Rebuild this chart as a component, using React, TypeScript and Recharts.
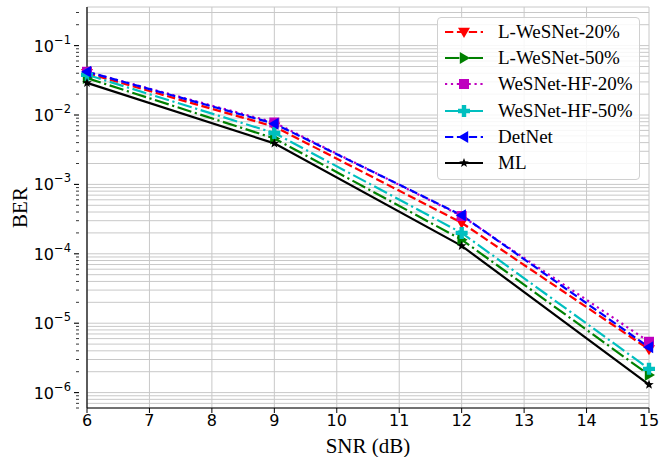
import { LineChart, Line, XAxis, YAxis, CartesianGrid, Label } from 'recharts';

const snr = [6, 9, 12, 15];
const lWesnet20 = [0.04, 0.0068, 2.8e-4, 4.2e-6];
const lWesnet50 = [0.034, 0.0046, 1.6e-4, 1.8e-6];
const wesnetHf20 = [0.042, 0.0078, 3.5e-4, 5.4e-6];
const wesnetHf50 = [0.038, 0.0055, 2.0e-4, 2.2e-6];
const detnet = [0.042, 0.0075, 3.6e-4, 4.5e-6];
const ml = [0.029, 0.0039, 1.3e-4, 1.3e-6];

const xTicks = [6, 7, 8, 9, 10, 11, 12, 13, 14, 15];
const decadeExps = [-7, -6, -5, -4, -3, -2, -1];
const minorMults = [1, 2, 3, 4, 5, 6, 7, 8, 9];

const Y_MIN = 6e-7;
const Y_MAX = 0.36;

const yTicks = decadeExps
  .flatMap((e) => minorMults.map((m) => m * Math.pow(10, e)))
  .filter((v) => v >= Y_MIN && v <= Y_MAX);

const data = snr.map((x, i) => ({
  snr: x,
  l20: lWesnet20[i],
  l50: lWesnet50[i],
  hf20: wesnetHf20[i],
  hf50: wesnetHf50[i],
  det: detnet[i],
  ml: ml[i],
}));

type Shape = 'down' | 'right' | 'square' | 'plus' | 'left' | 'star';

function Marker({ cx, cy, shape, color }: { cx: number; cy: number; shape: Shape; color: string }) {
  const r = 6;
  if (shape === 'down')
    return <polygon points={`${cx - r},${cy - r * 0.7} ${cx + r},${cy - r * 0.7} ${cx},${cy + r}`} fill={color} />;
  if (shape === 'right')
    return <polygon points={`${cx - r * 0.7},${cy - r} ${cx - r * 0.7},${cy + r} ${cx + r},${cy}`} fill={color} />;
  if (shape === 'left')
    return <polygon points={`${cx + r * 0.7},${cy - r} ${cx + r * 0.7},${cy + r} ${cx - r},${cy}`} fill={color} />;
  if (shape === 'square') return <rect x={cx - 5} y={cy - 5} width={10} height={10} fill={color} />;
  if (shape === 'plus') {
    const a = 6;
    const b = 2.2;
    return (
      <path
        d={`M${cx - b},${cy - a}H${cx + b}V${cy - b}H${cx + a}V${cy + b}H${cx + b}V${cy + a}H${cx - b}V${cy + b}H${cx - a}V${cy - b}H${cx - b}Z`}
        fill={color}
      />
    );
  }
  const pts: string[] = [];
  for (let k = 0; k < 10; k++) {
    const rad = k % 2 === 0 ? 5 : 2.1;
    const ang = -Math.PI / 2 + (k * Math.PI) / 5;
    pts.push(`${cx + rad * Math.cos(ang)},${cy + rad * Math.sin(ang)}`);
  }
  return <polygon points={pts.join(' ')} fill={color} />;
}

const series: Array<{ key: string; name: string; color: string; dash: string; shape: Shape }> = [
  { key: 'l20', name: 'L-WeSNet-20%', color: '#ff0000', dash: '8.3 3.6', shape: 'down' },
  { key: 'l50', name: 'L-WeSNet-50%', color: '#008000', dash: '14.4 3.6 2.2 3.6', shape: 'right' },
  { key: 'hf20', name: 'WeSNet-HF-20%', color: '#bf00bf', dash: '2.2 3.7', shape: 'square' },
  { key: 'hf50', name: 'WeSNet-HF-50%', color: '#00bfbf', dash: '14.4 3.6 2.2 3.6', shape: 'plus' },
  { key: 'det', name: 'DetNet', color: '#0000ff', dash: '8.3 3.6', shape: 'left' },
  { key: 'ml', name: 'ML', color: '#000000', dash: '', shape: 'star' },
];

function YTick(props: any) {
  const { x, y, payload } = props;
  const v = payload.value as number;
  const exp = Math.round(Math.log10(v));
  const isMajor = Math.abs(v - Math.pow(10, exp)) < Math.pow(10, exp) * 1e-6;
  return (
    <g>
      <line x1={x} x2={x - (isMajor ? 5 : 3)} y1={y} y2={y} stroke="#000" strokeWidth={isMajor ? 1.1 : 0.8} />
      {isMajor && (
        <text x={x - 8} y={y + 6} textAnchor="end" fontFamily="DejaVu Sans" fontSize={16} fill="#000">
          10
          <tspan dy={-8} fontSize={11.5}>{`\u2212${-exp}`}</tspan>
        </text>
      )}
    </g>
  );
}

function LegendBox() {
  return (
    <div
      style={{
        position: 'absolute',
        left: 437,
        top: 17,
        width: 203,
        height: 163,
        border: '1px solid #d0d0d0',
        borderRadius: 4,
        background: 'rgba(255,255,255,0.85)',
        boxSizing: 'border-box',
        paddingTop: 1,
      }}
    >
      {series.map((s) => (
        <div key={s.key} style={{ display: 'flex', alignItems: 'center', height: 26.2 }}>
          <svg width={60} height={20} style={{ flexShrink: 0 }}>
            <line x1={7} x2={45} y1={10} y2={10} stroke={s.color} strokeWidth={2.2} strokeDasharray={s.dash || undefined} />
            <Marker cx={26} cy={10} shape={s.shape} color={s.color} />
          </svg>
          <span style={{ fontFamily: 'Liberation Serif', fontSize: 19, color: '#000', lineHeight: '26px' }}>{s.name}</span>
        </div>
      ))}
    </div>
  );
}

function BerLabel(props: any) {
  const { viewBox } = props;
  const cy = viewBox.y + viewBox.height / 2;
  return (
    <text x={0} y={0} transform={`translate(27, ${cy}) rotate(-90)`} textAnchor="middle" fontFamily="Liberation Serif" fontSize={21} fill="#000">
      BER
    </text>
  );
}

export default function App() {
  return (
    <div style={{ position: 'absolute', left: 0, top: 0, width: 668, height: 457, background: '#fff' }}>
      <LineChart width={668} height={457} data={data} margin={{ top: 7, right: 19, bottom: 0, left: 0 }}>
        <CartesianGrid stroke="#c8c8c8" strokeWidth={1} />
        <XAxis
          dataKey="snr"
          type="number"
          domain={[6, 15]}
          ticks={xTicks}
          tick={{ fill: '#000', fontSize: 16, fontFamily: 'DejaVu Sans' }}
          tickSize={5}
          tickLine={{ stroke: '#000' }}
          axisLine={{ stroke: '#000', strokeWidth: 1.2 }}
          height={49}
          interval={0}
        >
          <Label value="SNR (dB)" position="insideBottom" offset={4} style={{ fontFamily: 'Liberation Serif', fontSize: 21, fill: '#000' }} />
        </XAxis>
        <XAxis xAxisId="top" orientation="top" dataKey="snr" type="number" domain={[6, 15]} tick={false} tickLine={false} axisLine={{ stroke: '#000', strokeWidth: 1.2 }} height={0} />
        <YAxis
          scale="log"
          type="number"
          domain={[Y_MIN, Y_MAX]}
          allowDataOverflow
          ticks={yTicks}
          interval={0}
          tick={<YTick />}
          tickLine={false}
          axisLine={{ stroke: '#000', strokeWidth: 1.2 }}
          width={87}
        >
          <Label content={<BerLabel />} />
        </YAxis>
        <YAxis yAxisId="right" orientation="right" scale="log" type="number" domain={[Y_MIN, Y_MAX]} allowDataOverflow tick={false} tickLine={false} axisLine={{ stroke: '#000', strokeWidth: 1.2 }} width={0} />
        {series.map((s) => (
          <Line
            key={s.key}
            dataKey={s.key}
            name={s.name}
            stroke={s.color}
            strokeWidth={2.2}
            strokeDasharray={s.dash || undefined}
            isAnimationActive={false}
            dot={(p: any) => <Marker key={`${s.key}-${p.index}`} cx={p.cx} cy={p.cy} shape={s.shape} color={s.color} />}
            activeDot={false}
          />
        ))}
      </LineChart>
      <LegendBox />
    </div>
  );
}
